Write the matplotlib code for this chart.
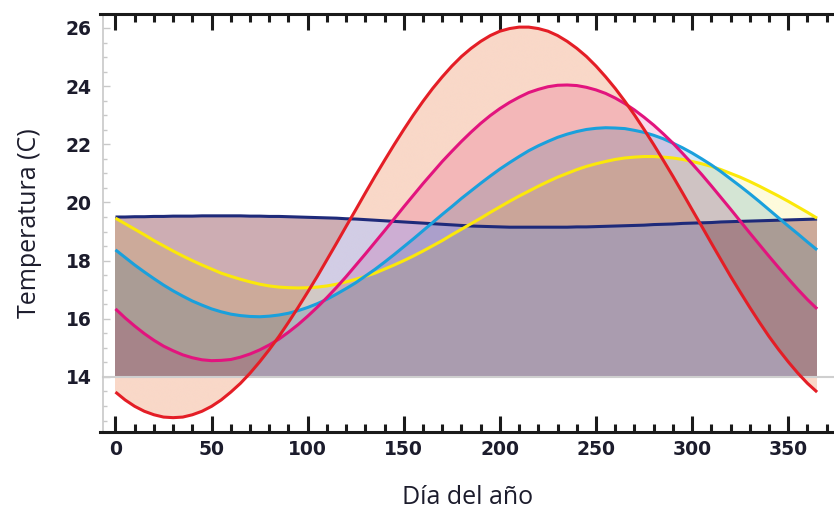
import numpy as np
import matplotlib
matplotlib.use('Agg')
import matplotlib.pyplot as plt
from matplotlib.ticker import MultipleLocator

# Day of year (every 5 days)
days = list(range(0, 366, 5))

# Temperature curves (°C)
red = [13.48, 13.21, 12.99, 12.82, 12.70, 12.62, 12.60, 12.62, 12.70, 12.82,
       12.99, 13.21, 13.48, 13.78, 14.13, 14.52, 14.94, 15.39, 15.88, 16.39,
       16.92, 17.46, 18.03, 18.60, 19.18, 19.75, 20.33, 20.90, 21.45, 21.99,
       22.51, 23.01, 23.48, 23.92, 24.32, 24.69, 25.02, 25.30, 25.54, 25.74,
       25.89, 25.98, 26.03, 26.03, 25.98, 25.89, 25.74, 25.54, 25.30, 25.02,
       24.69, 24.32, 23.92, 23.48, 23.01, 22.51, 21.99, 21.45, 20.90, 20.33,
       19.75, 19.18, 18.60, 18.03, 17.46, 16.92, 16.39, 15.88, 15.39, 14.94,
       14.52, 14.13, 13.78, 13.48]
magenta = [16.34, 16.03, 15.75, 15.49, 15.26, 15.06, 14.90, 14.76, 14.66, 14.59,
           14.56, 14.57, 14.60, 14.68, 14.79, 14.93, 15.10, 15.30, 15.54, 15.80,
           16.09, 16.40, 16.73, 17.08, 17.45, 17.84, 18.23, 18.63, 19.03, 19.44,
           19.85, 20.25, 20.65, 21.03, 21.41, 21.76, 22.10, 22.42, 22.72, 22.99,
           23.23, 23.44, 23.62, 23.78, 23.89, 23.98, 24.03, 24.04, 24.02, 23.96,
           23.87, 23.75, 23.59, 23.40, 23.18, 22.93, 22.66, 22.36, 22.04, 21.69,
           21.33, 20.96, 20.57, 20.17, 19.77, 19.36, 18.95, 18.55, 18.15, 17.76,
           17.38, 17.01, 16.66, 16.34]
blue = [18.37, 18.11, 17.85, 17.61, 17.38, 17.16, 16.96, 16.78, 16.61, 16.47,
        16.34, 16.24, 16.16, 16.11, 16.08, 16.07, 16.09, 16.13, 16.19, 16.28,
        16.39, 16.52, 16.67, 16.85, 17.04, 17.24, 17.47, 17.70, 17.95, 18.21,
        18.48, 18.75, 19.03, 19.31, 19.59, 19.86, 20.14, 20.40, 20.66, 20.91,
        21.15, 21.37, 21.58, 21.78, 21.95, 22.10, 22.24, 22.35, 22.44, 22.51,
        22.55, 22.57, 22.56, 22.54, 22.48, 22.41, 22.31, 22.19, 22.04, 21.88,
        21.70, 21.50, 21.29, 21.06, 20.81, 20.56, 20.30, 20.03, 19.75, 19.47,
        19.19, 18.92, 18.64, 18.37]
yellow = [19.46, 19.27, 19.08, 18.89, 18.69, 18.51, 18.33, 18.16, 18.00, 17.85,
          17.71, 17.57, 17.46, 17.36, 17.27, 17.19, 17.13, 17.09, 17.07, 17.06,
          17.07, 17.09, 17.13, 17.19, 17.27, 17.36, 17.46, 17.57, 17.71, 17.85,
          18.00, 18.16, 18.33, 18.51, 18.69, 18.89, 19.08, 19.27, 19.46, 19.66,
          19.85, 20.04, 20.22, 20.39, 20.56, 20.72, 20.87, 21.00, 21.13, 21.24,
          21.33, 21.41, 21.48, 21.53, 21.56, 21.58, 21.58, 21.56, 21.53, 21.48,
          21.41, 21.33, 21.24, 21.13, 21.00, 20.87, 20.72, 20.56, 20.39, 20.22,
          20.04, 19.85, 19.66, 19.46]
navy = [19.50, 19.50, 19.51, 19.51, 19.52, 19.52, 19.53, 19.53, 19.53, 19.54,
        19.54, 19.54, 19.54, 19.54, 19.53, 19.53, 19.52, 19.52, 19.51, 19.50,
        19.49, 19.48, 19.47, 19.46, 19.44, 19.43, 19.41, 19.39, 19.37, 19.35,
        19.33, 19.31, 19.29, 19.27, 19.25, 19.23, 19.21, 19.19, 19.18, 19.17,
        19.16, 19.15, 19.15, 19.15, 19.15, 19.15, 19.15, 19.15, 19.16, 19.16,
        19.17, 19.18, 19.19, 19.20, 19.21, 19.22, 19.24, 19.25, 19.26, 19.28,
        19.29, 19.30, 19.31, 19.33, 19.34, 19.35, 19.36, 19.37, 19.38, 19.39,
        19.40, 19.41, 19.42, 19.43]

xticks = [0, 50, 100, 150, 200, 250, 300, 350]
yticks = [14, 16, 18, 20, 22, 24, 26]
base = 14.0

XMIN, XMAX = -8.06, 373.8
YMIN, YMAX = 12.107, 26.481
YAXIS_X = -6.5

fig = plt.figure(figsize=(8.34, 5.17), dpi=100)
ax = fig.add_axes([100/834, 1-432/517, 734/834, 418/517])

# ---- translucent fillings rendered with multiply blending ----
d = np.array(days, float)
nx, ny = 1460, 900
X = np.linspace(d[0], d[-1], nx)
V = np.linspace(YMIN, YMAX, ny)[:, None]
cur = {k: np.interp(X, d, np.asarray(c, float))[None, :] for k, c in
       dict(R=red, M=magenta, B=blue, Y=yellow, N=navy).items()}

def band(a, b):
    return (V >= np.minimum(a, b)) & (V <= np.maximum(a, b))

masks = {
    'R': band(cur['R'], cur['N']),
    'N': band(cur['N'], base),
    'M': band(cur['M'], base),
    'B': band(cur['B'], base),
    'Y': band(cur['Y'], base),
}
fill_factor = {'R': (249, 216, 200), 'M': (249, 217, 235), 'B': (213, 233, 246),
               'Y': (254, 251, 220), 'N': (210, 205, 229)}
rgba = np.ones((ny, nx, 4))
covered = np.zeros((ny, nx), bool)
for k, m in masks.items():
    f = np.array(fill_factor[k]) / 255.0
    rgba[..., :3] = np.where(m[..., None], rgba[..., :3] * f, rgba[..., :3])
    covered |= m
rgba[..., 3] = covered.astype(float)
ax.imshow(rgba, extent=(d[0], d[-1], YMIN, YMAX), origin='lower', aspect='auto',
          interpolation='antialiased', zorder=1)

# baseline (axis at 14)
ax.axhline(base, xmin=(YAXIS_X - XMIN)/(XMAX - XMIN), xmax=1,
           color='#cfcfcf', lw=1.5, zorder=2)

# ---- curves ----
line_colors = dict(N='#1e2a7a', Y='#fbe80a', B='#1aa0dc', M='#e2147e', R='#e41e26')
for k, c in [('N', navy), ('Y', yellow), ('B', blue), ('M', magenta), ('R', red)]:
    ax.plot(days, c, color=line_colors[k], lw=2.2, zorder=3, solid_capstyle='butt')

ax.set_xlim(XMIN, XMAX)
ax.set_ylim(YMIN, YMAX)

# ---- frame / axes ----
for sp in ['top', 'bottom']:
    ax.spines[sp].set_linewidth(2.2)
    ax.spines[sp].set_color('#1a1a1a')
ax.spines['right'].set_visible(False)
ax.spines['left'].set_position(('data', YAXIS_X))
ax.spines['left'].set_color('#c8c8c8')
ax.spines['left'].set_linewidth(1.2)

ax.set_xticks(xticks)
ax.set_yticks(yticks)
ax.xaxis.set_minor_locator(MultipleLocator(10))
ax.yaxis.set_minor_locator(MultipleLocator(0.5))

ax.tick_params(axis='x', which='both', top=True, bottom=True, direction='in',
               color='#1a1a1a', width=2.2, labelsize=13.5, labelcolor='#1c1c2c', pad=6)
ax.tick_params(axis='x', which='major', length=11.5)
ax.tick_params(axis='x', which='minor', length=5.5)
ax.tick_params(axis='y', which='both', direction='in', color='#c8c8c8', width=1.0,
               labelsize=13.5, labelcolor='#1c1c2c', pad=8)
ax.tick_params(axis='y', which='major', length=5)
ax.tick_params(axis='y', which='minor', length=3)
for lab in ax.get_xticklabels() + ax.get_yticklabels():
    lab.set_fontfamily('DejaVu Sans')
    lab.set_fontweight('bold')

fig.text(468/834, 1-497/517, 'Día del año', ha='center', va='center',
         fontsize=18, family='Open Sans', color='#1c1c2c')
fig.text(30/834, 1-223/517, 'Temperatura (C)', ha='center', va='center', rotation=90,
         fontsize=18, family='Open Sans', color='#1c1c2c')

fig.savefig('out.png', dpi=100)
